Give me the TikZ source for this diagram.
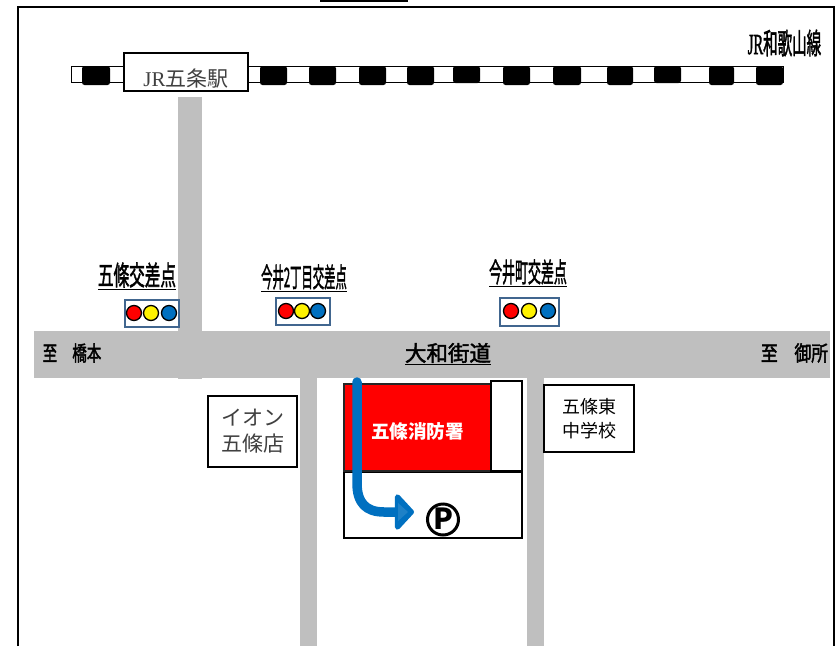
\documentclass[tikz,border=0pt]{standalone}
\usepackage{fontspec}
\setmainfont{Noto Sans CJK JP}
\newfontfamily\jrfont{Liberation Serif}
\newfontfamily\fakebold[FakeBold=2.2]{Noto Sans CJK JP}
\newfontfamily\jrbold[FakeBold=2.2]{Liberation Serif}
\usetikzlibrary{arrows.meta}
\definecolor{roadgray}{HTML}{BFBFBF}
\definecolor{signalblue}{HTML}{0070C0}
\definecolor{signalframe}{HTML}{41668F}
\newcommand{\squeezed}[3]{\scalebox{#1}[1]{\fontsize{#2}{#2}\fakebold #3}}
\tikzset{
  x=1pt,y=-1pt,
  road/.style={fill=roadgray,draw=none},
  sleeper/.style={fill=black,draw=none,rounded corners=2.5pt},
  plainbox/.style={draw=black,fill=white,line width=1.8pt},
  frameline/.style={draw=black,line width=2pt},
  lamp/.style={circle,draw=black,line width=1.3pt,minimum size=15pt,inner sep=0pt},
  signalbox/.style={draw=signalframe,fill=white,line width=1.3pt},
  label/.style={inner sep=0pt,text=black},
  routearrow/.style={draw=signalblue,line width=9.5pt,line cap=round,
    -{Triangle[length=20pt,width=42pt,round]}},
}
\begin{document}
\begin{tikzpicture}
\useasboundingbox (0,0) rectangle (836,646);
\fill[white] (0,0) rectangle (836,646);
% frame
\draw[frameline] (18,646) -- (18,6.5) -- (833.5,6.5) -- (833.5,646);
\draw[frameline] (320,1) -- (408,1);
% railway
\draw[draw=black,fill=white,line width=1pt] (71.5,66.5) rectangle (783,82);
\foreach \a/\b/\c in {82/110/85,260/287/85,309/336/85,359/386/85,407/434/85,453/480/83,503/530/85,553/581/85,607/633/85,654/681/83,709/734/85,756/783/85}{
  \fill[sleeper] (\a,66) rectangle (\b,\c);
}
% roads
\fill[road] (178,97) rectangle (202,379);
\fill[road] (34,331) rectangle (830,378);
\fill[road] (300,378) rectangle (317,646);
\fill[road] (527,378) rectangle (544,646);
% station
\node[plainbox,line width=2pt,minimum width=124pt,minimum height=38pt,inner sep=0pt] (station) at (185.5,71.5) {};
\node[label,text=black!75] (stationtext) at (186,79) {\fontsize{21}{21}\selectfont{\jrfont JR}五条駅};
\node[label] (line) at (784.5,43) {\scalebox{0.5}[1]{\fontsize{29}{29}\fakebold{\jrbold JR}和歌山線}};
% crossing labels
\node[label] (c1) at (137,276) {\squeezed{0.578}{27}{\underline{五條交差点}}};
\node[label] (c2) at (304,278) {\squeezed{0.42}{27}{\underline{今井2丁目交差点}}};
\node[label] (c3) at (528,273) {\squeezed{0.48}{27}{\underline{今井町交差点}}};
% signals
\node[signalbox,minimum width=54pt,minimum height=27pt,inner sep=0pt] (s1) at (152,313.5) {};
\node[lamp,fill=red] (s1r) at (134,313) {};
\node[lamp,fill=yellow] (s1y) at (151,313) {};
\node[lamp,fill=signalblue] (s1b) at (169,313) {};
\node[signalbox,minimum width=54pt,minimum height=27pt,inner sep=0pt] (s2) at (303,311.5) {};
\node[lamp,fill=red] (s2r) at (286,311) {};
\node[lamp,fill=yellow] (s2y) at (302,311) {};
\node[lamp,fill=signalblue] (s2b) at (318,311) {};
\node[signalbox,minimum width=59pt,minimum height=28pt,inner sep=0pt] (s3) at (529.5,312) {};
\node[lamp,fill=red] (s3r) at (511,311) {};
\node[lamp,fill=yellow] (s3y) at (529,311) {};
\node[lamp,fill=signalblue] (s3b) at (548,311) {};
% road labels
\node[label] (west) at (72,353) {\squeezed{0.69}{21}{至\hspace{22pt}橋本}};
\node[label] (east) at (794.5,353) {\squeezed{0.8}{21}{至\hspace{21pt}御所}};
\node[label] (yamato) at (448,354) {\fontsize{21.5}{21.5}\fakebold\underline{大和街道}};
% buildings
\node[plainbox,minimum width=89pt,minimum height=71pt,inner sep=0pt,align=center,text=black!75,font=\fontsize{21}{26}\selectfont] (aeon) at (252.5,431.5) {イオン\\五條店};
\node[plainbox,minimum width=90pt,minimum height=67pt,inner sep=0pt,align=center,font=\fontsize{18}{24}\selectfont] (school) at (589,418.5) {五條東\\中学校};
\node[draw=black,fill=white,line width=1.4pt,minimum width=178pt,minimum height=66pt,inner sep=0pt] (lot) at (433,505) {};
\node[draw=black!85,fill=red,line width=1.4pt,minimum width=147pt,minimum height=87pt,inner sep=0pt] (fire) at (417.5,427.5) {};
\node[draw=black,fill=white,line width=1.4pt,minimum width=31pt,minimum height=90pt,inner sep=0pt] (annex) at (506.5,426) {};
\node[label,text=white] (firetext) at (417.5,431) {\fontsize{18.6}{19}\selectfont\bfseries 五條消防署};
% parking
\node[circle,draw=black,fill=white,line width=3pt,minimum size=31pt,inner sep=0pt] (park) at (443,519.5) {};
\node[label] (ptext) at (443,519) {\fontsize{29}{29}\selectfont\bfseries P};
% route
\coordinate (routestart) at (357,382);
\coordinate (routeend) at (414,512);
\draw[routearrow,line join=round] (routestart) -- (357,483) .. controls (357,503) and (366,512) .. (384,512) -- (routeend);
\fill[signalblue!80!white,opacity=.6] (398,503) -- (408,512) -- (398,521) -- cycle;
\end{tikzpicture}
\end{document}
